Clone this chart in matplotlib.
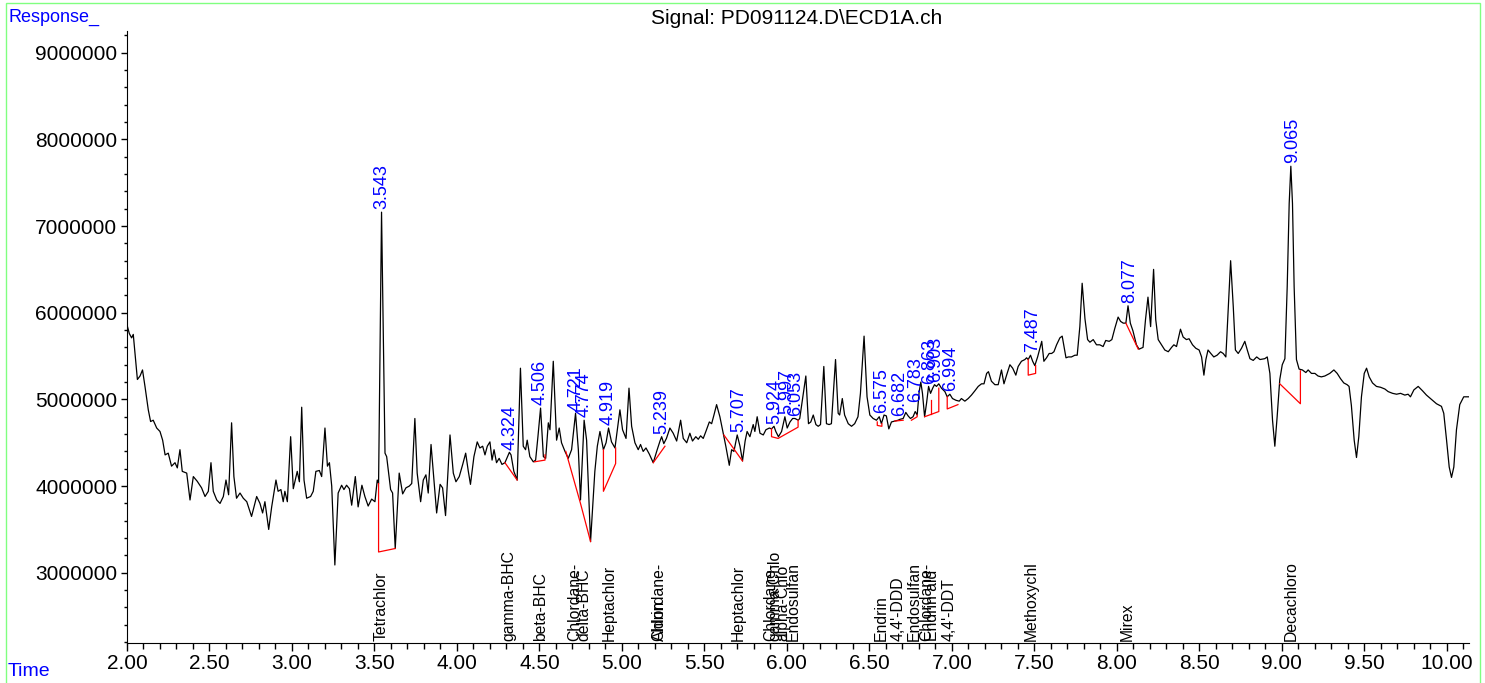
import numpy as np
import matplotlib
matplotlib.use("Agg")
import matplotlib.pyplot as plt
from matplotlib.ticker import MultipleLocator, FuncFormatter
from matplotlib.patches import Rectangle
import matplotlib.transforms as mtransforms

plt.rcParams["font.family"] = ["Liberation Sans", "DejaVu Sans"]

# chromatogram trace: time (min) and response (millions)
time_min = [
    2.000, 2.014, 2.028, 2.038, 2.063, 2.079, 2.094, 2.109, 2.129, 2.143, 2.159, 2.180, 2.200, 2.216, 2.231, 2.250,
    2.270, 2.291, 2.305, 2.321, 2.335, 2.362, 2.382, 2.402, 2.426, 2.452, 2.473, 2.493, 2.509, 2.523, 2.544, 2.564,
    2.584, 2.600, 2.616, 2.634, 2.648, 2.664, 2.685, 2.705, 2.726, 2.755, 2.786, 2.806, 2.822, 2.836, 2.859, 2.877,
    2.903, 2.916, 2.933, 2.947, 2.957, 2.972, 2.992, 3.008, 3.032, 3.045, 3.059, 3.073, 3.089, 3.113, 3.129, 3.145,
    3.166, 3.180, 3.200, 3.215, 3.227, 3.241, 3.260, 3.280, 3.301, 3.315, 3.331, 3.348, 3.362, 3.384, 3.401, 3.424,
    3.442, 3.462, 3.483, 3.503, 3.517, 3.525, 3.543, 3.564, 3.574, 3.598, 3.610, 3.626, 3.650, 3.671, 3.691, 3.711,
    3.726, 3.745, 3.759, 3.780, 3.796, 3.812, 3.826, 3.843, 3.857, 3.877, 3.898, 3.913, 3.931, 3.958, 3.978, 3.994,
    4.014, 4.035, 4.053, 4.069, 4.082, 4.103, 4.123, 4.139, 4.156, 4.170, 4.184, 4.200, 4.213, 4.225, 4.240, 4.256,
    4.273, 4.291, 4.318, 4.328, 4.345, 4.365, 4.385, 4.402, 4.416, 4.426, 4.442, 4.463, 4.477, 4.491, 4.507, 4.524,
    4.538, 4.554, 4.564, 4.584, 4.604, 4.620, 4.634, 4.655, 4.675, 4.695, 4.719, 4.736, 4.749, 4.771, 4.786, 4.810,
    4.836, 4.851, 4.867, 4.888, 4.904, 4.919, 4.937, 4.958, 4.972, 4.988, 5.004, 5.025, 5.043, 5.059, 5.079, 5.099,
    5.113, 5.129, 5.146, 5.166, 5.190, 5.214, 5.231, 5.241, 5.254, 5.270, 5.291, 5.311, 5.332, 5.356, 5.372, 5.393,
    5.412, 5.428, 5.448, 5.463, 5.477, 5.493, 5.509, 5.530, 5.544, 5.558, 5.574, 5.594, 5.614, 5.630, 5.651, 5.665,
    5.679, 5.699, 5.716, 5.731, 5.747, 5.759, 5.776, 5.796, 5.806, 5.820, 5.837, 5.857, 5.873, 5.894, 5.907, 5.922,
    5.933, 5.949, 5.968, 5.988, 6.002, 6.019, 6.035, 6.049, 6.069, 6.078, 6.094, 6.115, 6.131, 6.145, 6.160, 6.176,
    6.190, 6.204, 6.224, 6.240, 6.256, 6.270, 6.295, 6.311, 6.320, 6.336, 6.350, 6.372, 6.392, 6.411, 6.431, 6.446,
    6.468, 6.486, 6.503, 6.523, 6.543, 6.560, 6.573, 6.589, 6.603, 6.618, 6.634, 6.654, 6.674, 6.685, 6.705, 6.721,
    6.735, 6.749, 6.765, 6.778, 6.790, 6.802, 6.812, 6.822, 6.835, 6.847, 6.859, 6.871, 6.884, 6.895, 6.907, 6.921,
    6.937, 6.958, 6.972, 6.988, 7.004, 7.025, 7.045, 7.058, 7.079, 7.099, 7.119, 7.140, 7.160, 7.180, 7.195, 7.211,
    7.222, 7.240, 7.261, 7.281, 7.301, 7.316, 7.332, 7.352, 7.369, 7.388, 7.402, 7.422, 7.443, 7.453, 7.463, 7.477,
    7.490, 7.503, 7.520, 7.545, 7.558, 7.574, 7.590, 7.605, 7.619, 7.635, 7.655, 7.669, 7.680, 7.692, 7.706, 7.725,
    7.746, 7.760, 7.776, 7.790, 7.807, 7.823, 7.837, 7.857, 7.877, 7.897, 7.917, 7.933, 7.954, 7.970, 7.988, 8.008,
    8.023, 8.039, 8.055, 8.068, 8.082, 8.098, 8.119, 8.135, 8.159, 8.174, 8.189, 8.205, 8.223, 8.236, 8.251, 8.271,
    8.291, 8.312, 8.332, 8.346, 8.362, 8.386, 8.402, 8.422, 8.438, 8.459, 8.479, 8.499, 8.514, 8.528, 8.540, 8.553,
    8.570, 8.588, 8.608, 8.629, 8.645, 8.661, 8.676, 8.690, 8.706, 8.719, 8.736, 8.756, 8.776, 8.791, 8.807, 8.827,
    8.848, 8.868, 8.897, 8.912, 8.928, 8.944, 8.958, 8.972, 8.988, 9.003, 9.019, 9.033, 9.045, 9.055, 9.065, 9.075,
    9.089, 9.105, 9.125, 9.146, 9.160, 9.180, 9.201, 9.220, 9.240, 9.261, 9.291, 9.316, 9.336, 9.356, 9.376, 9.396,
    9.408, 9.422, 9.439, 9.453, 9.467, 9.483, 9.500, 9.514, 9.530, 9.550, 9.574, 9.599, 9.625, 9.645, 9.672, 9.696,
    9.720, 9.746, 9.766, 9.780, 9.801, 9.827, 9.853, 9.877, 9.907, 9.938, 9.968, 9.982, 9.999, 10.015, 10.029, 10.043,
    10.059, 10.079, 10.103, 10.136,
]
response_m = [
    5.86, 5.76, 5.71, 5.75, 5.23, 5.27, 5.34, 5.15, 4.88, 4.745, 4.76, 4.67, 4.63, 4.53, 4.36, 4.38,
    4.23, 4.27, 4.21, 4.42, 4.17, 4.15, 3.84, 4.11, 4.055, 3.98, 3.88, 3.94, 4.27, 3.94, 3.84, 3.80,
    3.88, 4.07, 3.90, 4.73, 4.11, 3.86, 3.92, 3.86, 3.82, 3.65, 3.88, 3.80, 3.69, 3.82, 3.50, 3.76,
    4.07, 3.94, 3.96, 3.82, 3.94, 3.82, 4.57, 3.97, 4.17, 4.05, 4.91, 4.07, 3.86, 3.88, 3.94, 4.17,
    4.18, 4.11, 4.67, 4.23, 4.27, 4.00, 3.09, 3.92, 4.01, 3.96, 4.01, 3.97, 3.78, 4.11, 3.76, 4.01,
    3.88, 3.77, 3.85, 3.82, 4.07, 4.03, 7.16, 4.38, 4.34, 3.96, 3.92, 3.28, 4.15, 3.91, 3.98, 4.00,
    4.03, 4.78, 4.15, 3.82, 4.07, 4.13, 3.92, 4.48, 4.15, 3.69, 4.02, 3.98, 3.66, 4.59, 4.15, 4.05,
    4.11, 4.25, 4.38, 4.17, 4.02, 4.34, 4.51, 4.44, 4.46, 4.36, 4.46, 4.51, 4.30, 4.42, 4.27, 4.32,
    4.25, 4.27, 4.39, 4.36, 4.17, 4.07, 5.36, 4.46, 4.42, 4.53, 4.34, 4.28, 4.30, 4.57, 4.90, 4.34,
    4.32, 4.73, 4.65, 5.44, 4.53, 4.67, 4.50, 4.40, 4.32, 4.42, 4.84, 4.42, 3.84, 4.76, 4.53, 3.36,
    4.17, 4.46, 4.63, 4.42, 4.50, 4.67, 4.51, 4.44, 4.65, 4.88, 4.65, 4.55, 5.13, 4.69, 4.50, 4.42,
    4.48, 4.40, 4.44, 4.37, 4.27, 4.42, 4.52, 4.57, 4.49, 4.55, 4.67, 4.61, 4.52, 4.76, 4.55, 4.50,
    4.61, 4.52, 4.57, 4.54, 4.58, 4.55, 4.63, 4.74, 4.72, 4.82, 4.94, 4.80, 4.61, 4.46, 4.24, 4.42,
    4.40, 4.59, 4.46, 4.29, 4.52, 4.63, 4.57, 4.71, 4.63, 4.80, 4.61, 4.59, 4.65, 4.67, 4.66, 4.69,
    4.63, 4.57, 4.63, 4.80, 4.67, 4.74, 4.78, 4.78, 4.76, 4.78, 4.99, 5.27, 4.72, 4.74, 4.82, 4.71,
    4.69, 4.71, 5.38, 4.72, 4.71, 4.72, 5.46, 4.84, 4.82, 5.01, 4.82, 4.72, 4.69, 4.72, 4.80, 5.07,
    5.73, 5.03, 4.82, 4.78, 4.76, 4.80, 4.72, 4.82, 4.81, 4.66, 4.74, 4.75, 4.76, 4.77, 4.78, 4.85,
    4.81, 4.78, 4.80, 4.86, 4.82, 5.09, 5.20, 5.07, 4.80, 4.96, 5.15, 5.07, 5.13, 5.17, 5.15, 5.18,
    5.13, 5.09, 5.03, 5.06, 5.01, 4.99, 4.98, 5.01, 4.98, 5.01, 5.05, 5.10, 5.15, 5.18, 5.18, 5.30,
    5.32, 5.21, 5.17, 5.17, 5.34, 5.18, 5.28, 5.40, 5.36, 5.28, 5.38, 5.44, 5.46, 5.48, 5.46, 5.51,
    5.44, 5.39, 5.49, 5.67, 5.44, 5.48, 5.53, 5.53, 5.55, 5.63, 5.71, 5.73, 5.61, 5.48, 5.49, 5.49,
    5.51, 5.51, 5.84, 6.34, 5.93, 5.69, 5.66, 5.69, 5.63, 5.63, 5.61, 5.68, 5.67, 5.69, 5.82, 5.95,
    5.90, 5.88, 5.88, 6.08, 5.88, 5.79, 5.63, 5.58, 5.60, 5.92, 6.18, 5.84, 6.50, 5.92, 5.69, 5.63,
    5.57, 5.55, 5.60, 5.63, 5.61, 5.81, 5.72, 5.69, 5.70, 5.63, 5.59, 5.57, 5.49, 5.28, 5.46, 5.57,
    5.53, 5.49, 5.51, 5.55, 5.53, 5.49, 6.07, 6.60, 6.07, 5.57, 5.53, 5.59, 5.67, 5.57, 5.47, 5.45,
    5.49, 5.46, 5.47, 5.49, 5.30, 4.76, 4.46, 4.80, 5.23, 5.40, 5.47, 6.30, 7.26, 7.69, 7.26, 6.30,
    5.46, 5.35, 5.34, 5.31, 5.34, 5.30, 5.30, 5.27, 5.26, 5.27, 5.30, 5.34, 5.30, 5.24, 5.19, 5.17,
    5.15, 4.93, 4.53, 4.33, 4.57, 5.03, 5.30, 5.36, 5.26, 5.19, 5.15, 5.14, 5.12, 5.09, 5.07, 5.06,
    5.07, 5.05, 5.06, 5.03, 5.11, 5.15, 5.10, 5.05, 5.00, 4.95, 4.92, 4.84, 4.53, 4.22, 4.10, 4.22,
    4.65, 4.94, 5.03, 5.03,
]

# integration baselines (red), each a list of (time, response in millions)
baselines = [
    [(3.525, 4.03), (3.525, 3.24), (3.626, 3.28)],
    [(4.291, 4.27), (4.365, 4.07)],
    [(4.470, 4.28), (4.534, 4.30), (4.534, 4.36)],
    [(4.660, 4.40), (4.749, 3.80), (4.810, 3.36)],
    [(4.888, 4.42), (4.888, 3.94), (4.962, 4.26), (4.962, 4.44)],
    [(5.190, 4.27), (5.261, 4.46)],
    [(5.618, 4.59), (5.731, 4.29)],
    [(5.907, 4.66), (5.907, 4.57), (5.947, 4.55), (6.068, 4.68), (6.068, 4.76)],
    [(6.548, 4.74), (6.548, 4.70), (6.576, 4.69), (6.576, 4.72)],
    [(6.654, 4.75), (6.705, 4.76)],
    [(6.755, 4.76), (6.790, 4.80), (6.790, 4.82)],
    [(6.835, 4.80), (6.921, 4.86), (6.921, 5.13)],
    [(6.871, 4.83), (6.871, 4.99)],
    [(6.972, 5.03), (6.972, 4.89), (7.037, 4.94)],
    [(7.463, 5.46), (7.463, 5.28), (7.508, 5.30), (7.508, 5.39)],
    [(8.055, 5.88), (8.130, 5.58)],
    [(8.988, 5.18), (9.113, 4.95), (9.113, 5.33)],
]

# peak retention times (blue labels)
peak_rt = [3.543, 4.324, 4.506, 4.721, 4.774, 4.919, 5.239, 5.707, 5.924, 5.997, 6.053,
           6.575, 6.682, 6.783, 6.863, 6.903, 6.994, 7.487, 8.077, 9.065]

# compound names at the bottom
compound_names = ["Tetrachlor", "gamma-BHC", "beta-BHC", "Chlordane-", "delta-BHC", "Heptachlor",
                  "Chlordane-", "Aldrin", "Heptachlor", "Chlordane-", "gamma-Chlo", "alpha-Chlo",
                  "Endosulfan", "Endrin", "4,4'-DDD", "Endosulfan", "Chlordane-", "Endrin ald",
                  "4,4'-DDT", "Methoxychl", "Mirex", "Decachloro"]
compound_rt = [3.543, 4.315, 4.506, 4.715, 4.770, 4.925, 5.225, 5.225, 5.707, 5.905, 5.930, 5.975,
               6.040, 6.575, 6.675, 6.775, 6.845, 6.885, 6.985, 7.480, 8.065, 9.055]

t = np.array(time_min)
r = np.array(response_m) * 1e6

fig = plt.figure(figsize=(14.85, 6.83), dpi=100)
ax = fig.add_axes([127 / 1485, 40 / 683, 1342 / 1485, 612 / 683])

ax.plot(t, r, color="black", lw=0.9)
for seg in baselines:
    bx = [p[0] for p in seg]
    by = [p[1] * 1e6 for p in seg]
    ax.plot(bx, by, color="red", lw=0.9)

# peak labels above apex
for rt in peak_rt:
    grid = np.linspace(rt - 0.012, rt + 0.012, 25)
    top = np.interp(grid, t, r).max()
    ax.annotate(f"{rt:.3f}", (rt, top), xytext=(0, 2), textcoords="offset points",
                rotation=90, ha="center", va="bottom", color="blue", fontsize=13)

# compound names along the bottom
trans = mtransforms.blended_transform_factory(ax.transData, ax.transAxes)
for name, rt in zip(compound_names, compound_rt):
    ax.text(rt, 0.003, name, transform=trans, rotation=90, ha="center", va="bottom",
            fontsize=11.3, color="black")

ax.set_xlim(2.0, 10.135)
ax.set_ylim(2.19e6, 9.25e6)
ax.xaxis.set_major_locator(MultipleLocator(0.5))
ax.xaxis.set_minor_locator(MultipleLocator(0.1))
ax.yaxis.set_major_locator(MultipleLocator(1e6))
ax.yaxis.set_minor_locator(MultipleLocator(2e5))
ax.xaxis.set_major_formatter(FuncFormatter(lambda v, p: f"{v:.2f}"))
ax.yaxis.set_major_formatter(FuncFormatter(lambda v, p: f"{v:.0f}" if v >= 3e6 else ""))
ax.tick_params(axis="x", which="major", length=6, width=1, labelsize=15, pad=2)
ax.tick_params(axis="x", which="minor", length=4, width=1)
ax.tick_params(axis="y", which="major", length=4, width=1, labelsize=15, pad=3)
ax.tick_params(axis="y", which="minor", length=2.5, width=1)
ax.spines["top"].set_visible(False)
ax.spines["right"].set_visible(False)

fig.text(797 / 1485, 1 - 18 / 683, "Signal: PD091124.D\\ECD1A.ch", ha="center", va="center", fontsize=15)
fig.text(8 / 1485, 1 - 17 / 683, "Response_", ha="left", va="center", fontsize=13, color="blue")
fig.text(8 / 1485, 1 - 672 / 683, "Time", ha="left", va="center", fontsize=14, color="blue")

border = Rectangle((6 / 1485, -0.01), 1474 / 1485, 1.01 - 3 / 683, transform=fig.transFigure,
                   fill=False, edgecolor="#80ff80", lw=1)
fig.patches.append(border)

fig.savefig("out.png", dpi=100)
